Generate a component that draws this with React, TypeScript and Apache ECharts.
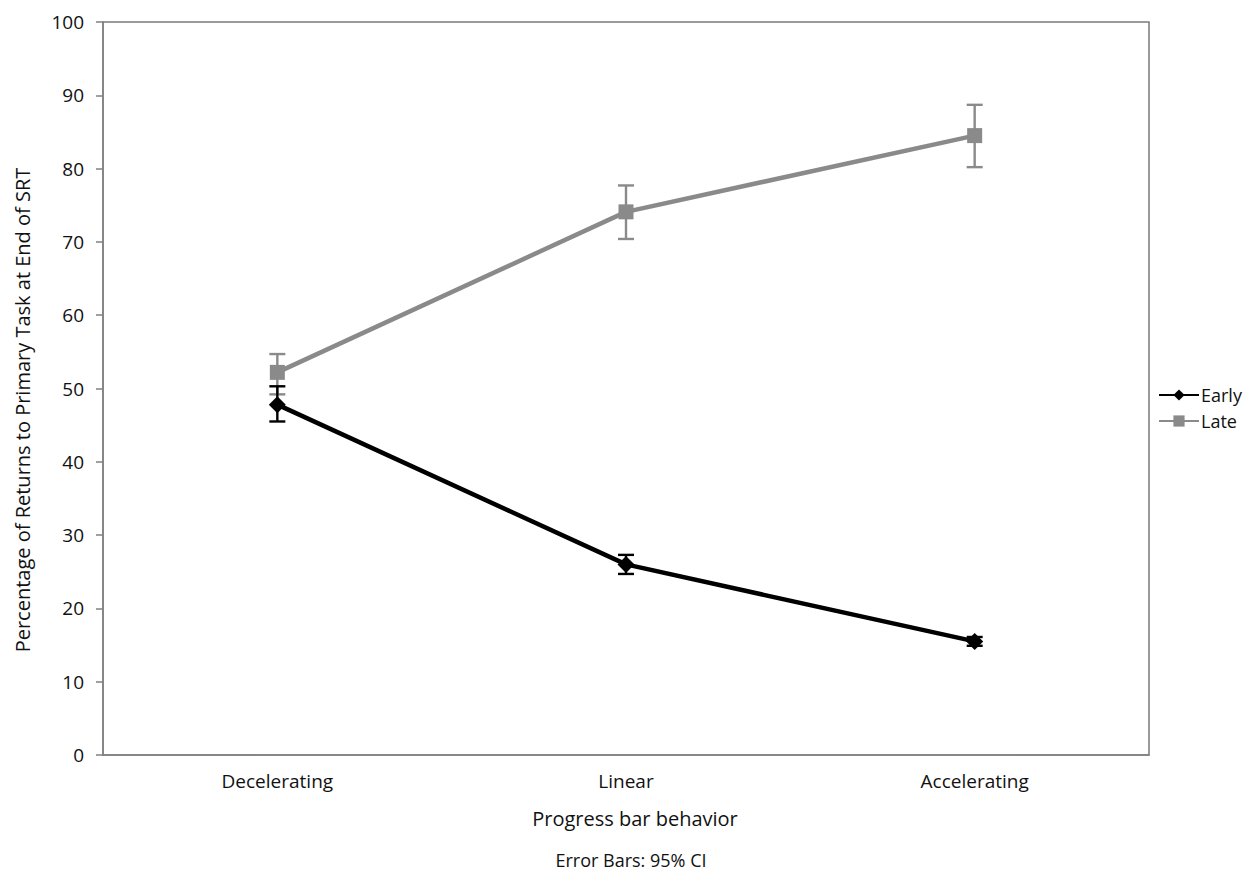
import React, { useEffect, useRef } from "react";
import * as echarts from "echarts";

const categories = ["Decelerating", "Linear", "Accelerating"];
const earlyValues = [47.8, 26.0, 15.5];
const earlyLow = [45.5, 24.7, 14.9];
const earlyHigh = [50.3, 27.3, 16.1];
const lateValues = [52.2, 74.1, 84.5];
const lateLow = [49.2, 70.4, 80.2];
const lateHigh = [54.7, 77.7, 88.7];
const yTitle = "Percentage of Returns to Primary Task at End of SRT";
const xTitle = "Progress bar behavior";
const note = "Error Bars: 95% CI";

const FONT = "'Open Sans', 'Noto Sans', sans-serif";
const GRAY = "#8a8a8a";

function errorSeries(name: string, low: number[], high: number[], color: string) {
  return {
    type: "custom",
    name: name + " CI",
    data: low.map((l, i) => [i, l, high[i]]),
    encode: { x: 0, y: [1, 2] },
    z: 1,
    silent: true,
    renderItem: (params: any, api: any) => {
      const i = api.value(0);
      const lo = api.coord([i, api.value(1)]);
      const hi = api.coord([i, api.value(2)]);
      const hw = 8;
      const style = { stroke: color, lineWidth: 2.4 };
      return {
        type: "group",
        children: [
          { type: "line", shape: { x1: lo[0], y1: lo[1], x2: hi[0], y2: hi[1] }, style },
          { type: "line", shape: { x1: lo[0] - hw, y1: lo[1], x2: lo[0] + hw, y2: lo[1] }, style },
          { type: "line", shape: { x1: hi[0] - hw, y1: hi[1], x2: hi[0] + hw, y2: hi[1] }, style },
        ],
      };
    },
  };
}

export default function App() {
  const ref = useRef<HTMLDivElement>(null);
  useEffect(() => {
    if (!ref.current) return;
    const chart = echarts.init(ref.current, null, { renderer: "svg" });
    chart.setOption({
      animation: false,
      backgroundColor: "#ffffff",
      textStyle: { fontFamily: FONT },
      grid: {
        left: 103,
        right: 100,
        top: 22,
        bottom: 118,
        show: true,
        borderColor: "#7a7a7a",
        borderWidth: 1.5,
        containLabel: false,
      },
      legend: {
        orient: "vertical",
        left: 1153,
        top: 381,
        itemWidth: 40,
        itemHeight: 14,
        itemGap: 8,
        data: ["Early", "Late"],
        textStyle: { fontFamily: FONT, fontSize: 18, color: "#111", padding: [0, 0, 0, -3] },
      },
      xAxis: {
        type: "category",
        data: categories,
        axisLine: { lineStyle: { color: "#808080", width: 1.5 } },
        axisTick: { alignWithLabel: true, length: 7, lineStyle: { color: "#808080", width: 1.5 } },
        axisLabel: { fontFamily: FONT, fontSize: 19, color: "#111", margin: 16 },
        splitLine: { show: false },
      },
      yAxis: {
        type: "value",
        min: 0,
        max: 100,
        interval: 10,
        axisLine: { show: true, lineStyle: { color: "#808080", width: 1.5 } },
        axisTick: { show: true, length: 7, lineStyle: { color: "#808080", width: 1.5 } },
        axisLabel: { fontFamily: FONT, fontSize: 19, color: "#111", margin: 19 },
        splitLine: { show: false },
      },
      graphic: [
        {
          type: "text",
          x: 22,
          y: 410,
          rotation: Math.PI / 2,
          style: {
            text: yTitle,
            fontFamily: FONT,
            fontSize: 20,
            fill: "#111",
            align: "center",
            verticalAlign: "middle",
          },
        },
        {
          type: "text",
          x: 635,
          y: 818,
          style: {
            text: xTitle,
            fontFamily: FONT,
            fontSize: 20,
            fill: "#111",
            align: "center",
            verticalAlign: "middle",
          },
        },
        {
          type: "text",
          x: 631,
          y: 860,
          style: {
            text: note,
            fontFamily: FONT,
            fontSize: 18,
            fill: "#111",
            align: "center",
            verticalAlign: "middle",
          },
        },
      ],
      series: [
        errorSeries("Late", lateLow, lateHigh, GRAY),
        errorSeries("Early", earlyLow, earlyHigh, "#000"),
        {
          type: "line",
          name: "Late",
          data: lateValues,
          symbol: "rect",
          symbolSize: 15,
          z: 3,
          lineStyle: { color: GRAY, width: 4.5 },
          itemStyle: { color: GRAY },
        },
        {
          type: "line",
          name: "Early",
          data: earlyValues,
          symbol: "diamond",
          symbolSize: 17,
          z: 4,
          lineStyle: { color: "#000", width: 4.5 },
          itemStyle: { color: "#000" },
        },
      ],
    });
    return () => chart.dispose();
  }, []);
  return (
    <div
      ref={ref}
      style={{ position: "fixed", left: 0, top: 0, width: 1249, height: 873, background: "#fff" }}
    />
  );
}
